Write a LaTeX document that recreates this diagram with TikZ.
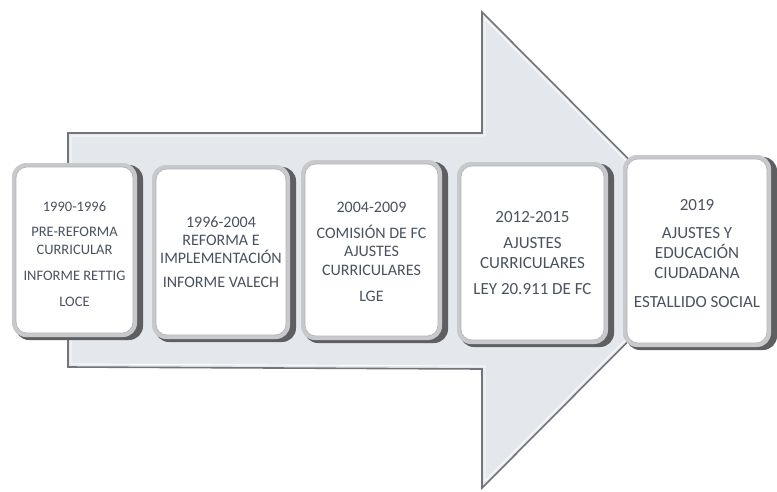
\documentclass[tikz,border=0pt]{standalone}
\usepackage{fontspec}
\setmainfont{Carlito}
\definecolor{txtc}{RGB}{74,82,98}
\definecolor{arrowfill}{RGB}{228,231,235}
\definecolor{arrowline}{RGB}{115,117,122}
\definecolor{rimdark}{RGB}{95,95,98}
\definecolor{rimlight}{RGB}{200,201,204}
\tikzset{
  x=1pt, y=-1pt,
  arrowbody/.style={fill=arrowfill, draw=arrowline, line width=1.6pt, line join=miter},
  arrowhl/.style={draw=white, line width=0.9pt},
  rimshadow/.style={fill=rimdark, rounded corners=14pt},
  rimface/.style={fill=rimlight, rounded corners=14pt},
  innerface/.style={fill=white, draw=gray!60, line width=0.6pt, rounded corners=11pt},
  label/.style={align=center, text=txtc, inner sep=0pt}
}
\newcommand\bevbox[8]{%
  \fill[rimshadow] (#2+3,#3+2) rectangle (#4,#5);
  \fill[rimface] (#2,#3) rectangle (#4-6,#5-3);
  \path[innerface] (#2+4,#3+4) rectangle (#4-10,#5-7);
  \node[label, font=#6] (#1) at ({(#2+#4)/2-3},#7) {#8};
}
\begin{document}
\begin{tikzpicture}
\useasboundingbox (0,0) rectangle (777,491);
% big arrow
\path[arrowbody] (68,133) -- (482,133) -- (482,12) -- (719,250) -- (482,488) -- (482,369) -- (68,367) -- cycle;
\path[arrowhl] (71,136) -- (485,136) -- (485,19) -- (715,250) -- (485,481) -- (485,366) -- (71,364) -- cycle;
% boxes
\bevbox{b1}{12}{163}{143}{340}{\fontsize{14.5}{18}\selectfont}{254}{1990-1996\\[7pt]PRE-REFORMA\\CURRICULAR\\[8pt]INFORME RETTIG\\[8pt]LOCE}
\bevbox{b2}{152}{165}{296}{342}{\fontsize{16}{18}\selectfont}{252}{1996-2004\\REFORMA E\\IMPLEMENTACIÓN\\[6pt]INFORME VALECH}
\bevbox{b3}{301}{160}{448}{343}{\fontsize{16}{18.5}\selectfont}{252}{2004-2009\\[7pt]COMISIÓN DE FC\\AJUSTES\\CURRICULARES\\[8pt]LGE}
\bevbox{b4}{457}{162}{614}{347}{\fontsize{17}{20}\selectfont}{253}{2012-2015\\[6pt]AJUSTES\\CURRICULARES\\[6pt]LEY 20.911 DE FC}
\bevbox{b5}{623}{155}{777}{350}{\fontsize{17}{20}\selectfont}{254}{2019\\[8pt]AJUSTES Y\\EDUCACIÓN\\CIUDADANA\\[9pt]ESTALLIDO SOCIAL}
\end{tikzpicture}
\end{document}
